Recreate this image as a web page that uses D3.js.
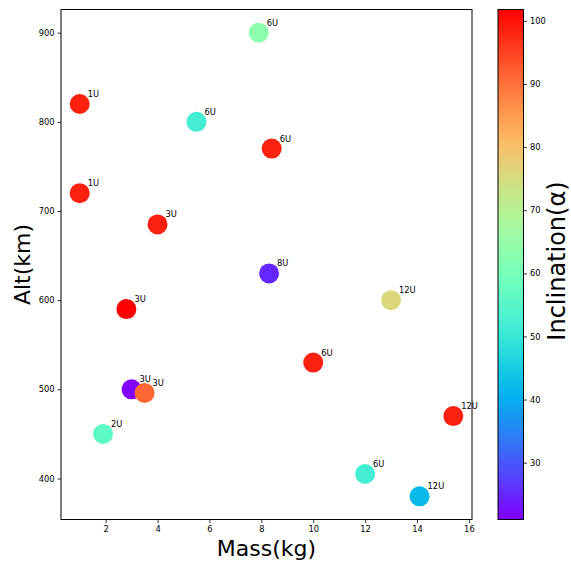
<!DOCTYPE html>
<html>
<head>
<meta charset="utf-8">
<script src="https://cdn.jsdelivr.net/npm/d3@7"></script>
<style>
  body { margin: 0; background: #fff; }
  text { font-family: "DejaVu Sans", sans-serif; fill: #000; }
</style>
</head>
<body>
<script>
var width = 571,
    height = 564;

// satellites: mass (kg), altitude (km), inclination, size label
var mass = [1, 1, 4, 2.8, 3, 3.5, 1.9, 7.9, 5.5, 8.4, 8.3, 13, 10, 15.4, 12, 14.1];
var alt = [820, 720, 685, 590, 500, 496, 450, 900, 800, 770, 630, 600, 530, 470, 405, 380];
var incl = [98.5, 98.5, 98.5, 101.8, 21, 91, 56, 63.5, 52, 98.5, 25, 75.8, 98.5, 98.5, 52, 42];
var sizes = ["1U", "1U", "3U", "3U", "3U", "3U", "2U", "6U", "6U", "6U", "8U", "12U", "6U", "12U", "6U", "12U"];

var xTicks = [2, 4, 6, 8, 10, 12, 14, 16];
var yTicks = [400, 500, 600, 700, 800, 900];
var cTicks = [30, 40, 50, 60, 70, 80, 90, 100];

var plot = {left: 61, right: 472, top: 9.5, bottom: 519.5};
var cbar = {left: 498, right: 523.5};

// matplotlib "rainbow"
function rainbow(t) {
  t = Math.max(0, Math.min(1, t));
  var r = Math.min(1, Math.abs(2 * t - 0.5)),
      g = Math.sin(Math.PI * t),
      b = Math.cos(Math.PI * t / 2);
  return d3.rgb(r * 255, g * 255, b * 255).formatHex();
}

var cMin = d3.min(incl), cMax = d3.max(incl);
var color = d3.scaleSequential(rainbow).domain([cMin, cMax]);

// 5% padding like matplotlib
var xExt = d3.extent(mass), yExt = d3.extent(alt);
var xPad = (xExt[1] - xExt[0]) * 0.05, yPad = (yExt[1] - yExt[0]) * 0.05;

var x = d3.scaleLinear()
    .domain([xExt[0] - xPad, xExt[1] + xPad])
    .range([plot.left, plot.right]);

var y = d3.scaleLinear()
    .domain([yExt[0] - yPad, yExt[1] + yPad])
    .range([plot.bottom, plot.top]);

var svg = d3.select("body").append("svg")
    .attr("width", width)
    .attr("height", height);

// points
svg.append("g").selectAll("circle")
    .data(mass)
    .enter().append("circle")
    .attr("cx", function(d) { return x(d); })
    .attr("cy", function(d, i) { return y(alt[i]); })
    .attr("r", 10)
    .attr("fill", function(d, i) { return color(incl[i]); });

svg.append("g").selectAll("text")
    .data(mass)
    .enter().append("text")
    .attr("x", function(d) { return x(d) + 8; })
    .attr("y", function(d, i) { return y(alt[i]) - 7; })
    .attr("font-size", "8.3px")
    .text(function(d, i) { return sizes[i]; });

// axes
var xAxis = svg.append("g")
    .attr("transform", "translate(0," + plot.bottom + ")")
    .call(d3.axisBottom(x).tickValues(xTicks).tickSize(3.5).tickPadding(3));

var yAxis = svg.append("g")
    .attr("transform", "translate(" + plot.left + ",0)")
    .call(d3.axisLeft(y).tickValues(yTicks).tickSize(3.5).tickPadding(3));

[xAxis, yAxis].forEach(function(a) {
  a.select(".domain").remove();
  a.selectAll("text").attr("font-size", "8.3px").attr("font-family", "DejaVu Sans").attr("fill", "#000");
  a.selectAll("line").attr("stroke", "#000").attr("stroke-width", 0.8);
});

svg.append("rect")
    .attr("x", plot.left)
    .attr("y", plot.top)
    .attr("width", plot.right - plot.left)
    .attr("height", plot.bottom - plot.top)
    .attr("fill", "none")
    .attr("stroke", "#000")
    .attr("stroke-width", 1);

svg.append("text")
    .attr("x", (plot.left + plot.right) / 2)
    .attr("y", 556)
    .attr("text-anchor", "middle")
    .attr("font-size", "22px")
    .text("Mass(kg)");

svg.append("text")
    .attr("transform", "translate(30," + (plot.top + plot.bottom) / 2 + ")rotate(-90)")
    .attr("text-anchor", "middle")
    .attr("font-size", "22px")
    .text("Alt(km)");

// colorbar
var cy = d3.scaleLinear()
    .domain([cMin, cMax])
    .range([plot.bottom, plot.top]);

var grad = svg.append("defs").append("linearGradient")
    .attr("id", "cgrad")
    .attr("x1", 0).attr("y1", 1).attr("x2", 0).attr("y2", 0);

grad.selectAll("stop")
    .data(d3.range(0, 1.0001, 0.02))
    .enter().append("stop")
    .attr("offset", function(d) { return d; })
    .attr("stop-color", function(d) { return rainbow(d); });

svg.append("rect")
    .attr("x", cbar.left)
    .attr("y", plot.top)
    .attr("width", cbar.right - cbar.left)
    .attr("height", plot.bottom - plot.top)
    .attr("fill", "url(#cgrad)")
    .attr("stroke", "#000")
    .attr("stroke-width", 1);

var cAxis = svg.append("g")
    .attr("transform", "translate(" + cbar.right + ",0)")
    .call(d3.axisRight(cy).tickValues(cTicks).tickSize(3.5).tickPadding(3));
cAxis.select(".domain").remove();
cAxis.selectAll("text").attr("font-size", "8.3px").attr("font-family", "DejaVu Sans").attr("fill", "#000");
cAxis.selectAll("line").attr("stroke", "#000").attr("stroke-width", 0.8);

svg.append("text")
    .attr("transform", "translate(564.5,261)rotate(-90)")
    .attr("text-anchor", "middle")
    .attr("font-size", "24px")
    .text("Inclination(α)");
</script>
</body>
</html>
